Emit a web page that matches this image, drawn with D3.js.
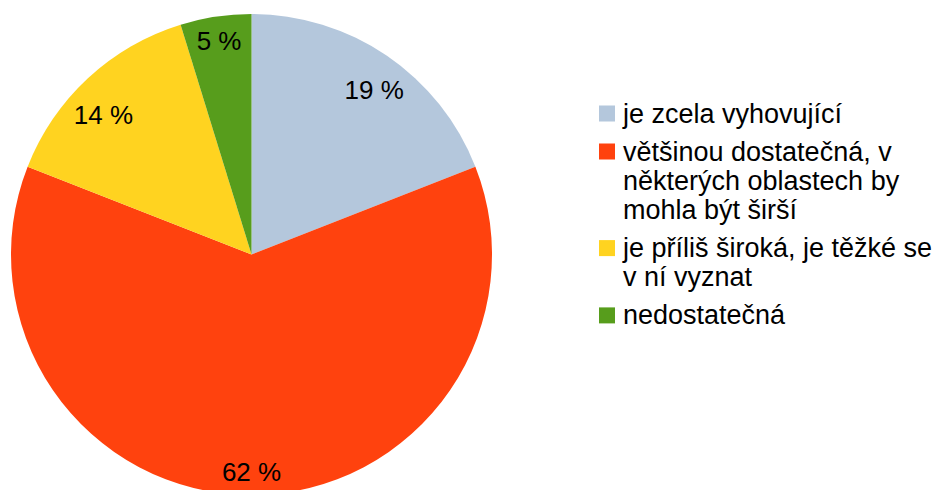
<!DOCTYPE html>
<html><head><meta charset="utf-8">
<script src="https://cdn.jsdelivr.net/npm/d3@7"></script>
<style>body{margin:0;background:#fff;} svg{display:block;}</style>
</head><body>
<svg id="c" width="932" height="490"></svg>
<script>
const categories = ["je zcela vyhovující", "většinou dostatečná, v některých oblastech by mohla být širší", "je příliš široká, je těžké se v ní vyznat", "nedostatečná"];
const legendLines = [["je zcela vyhovující"], ["většinou dostatečná, v", "některých oblastech by", "mohla být širší"], ["je příliš široká, je těžké se", "v ní vyznat"], ["nedostatečná"]];
const counts = [4, 13, 3, 1];
const colors = ["#b4c7dc", "#ff420e", "#ffd320", "#579d1c"];

const svg = d3.select("#c");
const cx = 251.5, cy = 254.5, r = 240.5;
const font = "'Liberation Sans', Arial, sans-serif";
const total = d3.sum(counts);
const pie = d3.pie().sort(null).value(d => d)(counts);
const arc = d3.arc().innerRadius(0).outerRadius(r);
const g = svg.append("g").attr("transform", `translate(${cx},${cy})`);
g.selectAll("path").data(pie).join("path").attr("d", arc).attr("fill", (d, i) => colors[i]);
g.selectAll("text").data(pie).join("text")
  .attr("transform", d => {
    const a = (d.startAngle + d.endAngle) / 2;
    const dx = Math.sin(a), dy = -Math.cos(a);
    const R = 0.905 * r;
    return `translate(${R * dx},${R * dy * (0.73 + 0.27 * dy * dy)})`;
  })
  .attr("text-anchor", "middle").attr("dy", "0.35em")
  .attr("font-family", font).attr("font-size", 26).attr("fill", "#000")
  .text(d => Math.round(d.value / total * 100) + " %");

const lx = 599, lineH = 29.3, itemGap = 38;
const lg = svg.append("g");
let base = 122.5;
legendLines.forEach((lines, i) => {
  lg.append("rect").attr("x", lx).attr("y", base - 17).attr("width", 16).attr("height", 16).attr("fill", colors[i]);
  lines.forEach((t, j) => {
    lg.append("text").attr("x", lx + 24).attr("y", base + j * lineH)
      .attr("font-family", font).attr("font-size", 27).attr("fill", "#000").text(t);
  });
  base += (lines.length - 1) * lineH + itemGap;
});
</script>
</body></html>
